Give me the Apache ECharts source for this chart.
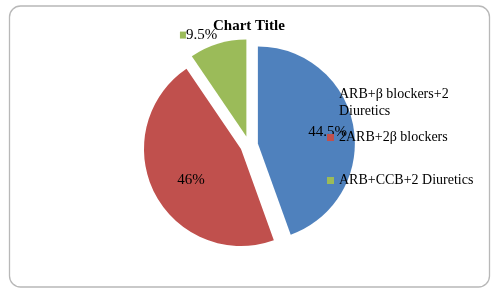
<!DOCTYPE html>
<html><head><meta charset="utf-8">
<script src="https://cdn.jsdelivr.net/npm/echarts@6/dist/echarts.min.js"></script>
<style>html,body{margin:0;padding:0;background:#fff}#c{width:501px;height:294px}</style>
</head><body><div id="c"></div>
<script>
const categories = ['ARB+β blockers+2 Diuretics', '2ARB+2β blockers', 'ARB+CCB+2 Diuretics'];
const values = [44.5, 46, 9.5];
const valueLabels = ['44.5%', '46%', '9.5%'];
const colors = ['#4F81BD', '#C0504D', '#9BBB59'];

const FONT = 'Liberation Serif';
const chart = echarts.init(document.getElementById('c'), null, {renderer: 'canvas'});

const labelCfg = [
  {position: 'inside'},
  {position: 'inside'},
  {position: 'outside', formatter: '{m|}' + valueLabels[2],
    rich: {m: {width: 6, height: 7, backgroundColor: colors[2]}}}
];
const labelShift = [[19, -3], [-4, 8], [7, 0]];

const data = categories.map((n, i) => ({
  name: n,
  value: values[i],
  selected: true,
  itemStyle: {color: colors[i]},
  label: Object.assign({show: true, formatter: valueLabels[i]}, labelCfg[i]),
  labelLine: {show: false, length: 9, length2: 0}
}));

const legendBase = {
  orient: 'vertical', padding: 0, icon: 'rect', itemWidth: 7, itemHeight: 7,
  selectedMode: false,
  textStyle: {fontFamily: FONT, fontSize: 14, color: '#000', lineHeight: 17}
};

chart.setOption({
  animation: false,
  title: {text: 'Chart Title', left: 213, top: 19, padding: 0,
    textStyle: {fontFamily: FONT, fontSize: 15, fontWeight: 'bold', color: '#000'}},
  graphic: [{type: 'rect', shape: {x: 9.5, y: 6, width: 480, height: 281, r: 11},
    style: {fill: 'none', stroke: '#b8b8b8', lineWidth: 1.3}, z: -10, silent: true}],
  legend: [
    Object.assign({}, legendBase, {left: 327, top: 86, data: [categories[0]],
      formatter: () => 'ARB+β blockers+2\nDiuretics'}),
    Object.assign({}, legendBase, {left: 327, top: 129, data: [categories[1]]}),
    Object.assign({}, legendBase, {left: 327, top: 172, data: [categories[2]]})
  ],
  series: [{
    type: 'pie', radius: 97, center: [249, 145], startAngle: 90, clockwise: true,
    selectedMode: 'multiple', selectedOffset: 9, avoidLabelOverlap: false,
    emphasis: {disabled: true}, z: 1,
    label: {fontFamily: FONT, fontSize: 15, color: '#000'},
    labelLayout: (p) => ({dx: labelShift[p.dataIndex][0], dy: labelShift[p.dataIndex][1]}),
    data: data
  }]
});
</script></body></html>
